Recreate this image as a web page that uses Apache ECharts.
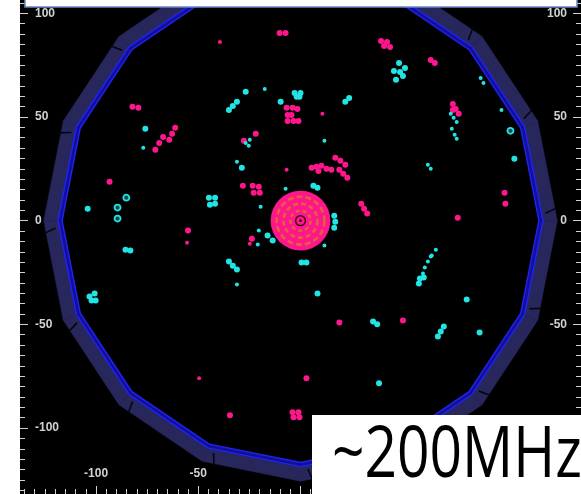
<!DOCTYPE html>
<html><head><meta charset="utf-8">
<script src="https://cdn.jsdelivr.net/npm/echarts@6/dist/echarts.min.js"></script>
<style>html,body{margin:0;padding:0;background:#fff;}#c{width:581px;height:494px;}</style>
</head><body><div id="c"></div>
<script>
// ---- axis ticks / labels ----
const majorTicks = [-100, -50, 0, 50, 100];
const minorTicks = [];
for (let t = -135; t <= 135; t += 5) minorTicks.push(t);
const xRange = [-137.2, 137.2];
const yRange = [-131.8, 106.4];

// ---- detector geometry (data units) ----
const detectorCenter = [[0, 0]];
const ringSides = 16;
const blueLineRadii = [116.6, 118.6];
const slabRadii = [118.6, 125.6];
const diskRadius = 14.6;
const diskDashRadii = [4.9, 8.3, 11.7];
const diskCoreRadius = 2.4;

// ---- hits (data units) ----
const pinkHits = [
  [-10.2,90.5],[-7.3,90.5],
  [-6.8,54.4],[-3.9,54.4],[-1.5,53.9],[-6.3,51.0],[-4.4,51.0],[-6.3,48.1],[-3.4,48.1],[-1.0,48.1],
  [39.4,86.6],[42.3,86.1],[43.8,83.7],[40.9,84.2],
  [63.7,77.5],[65.7,76.0],
  [74.5,56.3],[75.9,53.9],[77.4,51.5],[74.5,53.4],
  [-82.2,54.9],[-79.3,54.4],
  [-71.0,34.2],[-69.1,37.5],[-67.2,40.4],
  [-64.2,39.0],[-62.8,41.9],[-61.3,44.8],
  [-93.4,18.8],
  [-27.7,38.5],[-21.9,41.9],
  [-28.2,16.8],
  [-23.4,16.8],[-20.4,16.4],[-22.9,13.5],[-19.9,13.5],
  [5.4,25.5],[7.8,26.0],[10.2,26.5],[12.7,25.0],[15.1,24.5],[8.8,24.0],
  [17.0,30.3],[19.5,28.9],[21.9,26.9],
  [19.0,24.5],[20.9,22.6],[22.9,20.7],
  [29.7,8.2],[31.1,5.8],[32.6,3.4],
  [99.8,13.5],[100.2,8.2],
  [76.9,1.4],
  [-55.0,-4.8],
  [-23.8,-8.7],
  [19.0,-49.1],[50.1,-48.1],
  [2.9,-76.0],[-34.5,-93.8],
  [-3.9,-92.4],[-1.0,-92.4],[-3.4,-94.8],[-0.5,-94.8]
];
const pinkSmallHits = [
  [-39.4,86.1],[10.7,51.5],[-6.8,24.5],[-55.5,-10.6],[-24.8,-11.1],[-49.6,-76.0]
];
const cyanHits = [
  [-75.9,44.3],
  [48.2,76.0],[51.1,73.6],[45.7,72.2],[50.1,69.8],[46.7,67.9],[48.7,71.7],
  [104.6,29.8],
  [-35.0,53.4],[-33.1,55.3],[-31.1,57.3],
  [-26.8,62.1],[-9.7,57.3],
  [-2.9,61.6],[0,61.6],[-1.9,59.7],[-0.5,59.7],
  [21.9,57.3],[23.8,59.2],
  [-44.8,11.1],[-41.8,11.1],[-44.3,7.7],[-41.8,8.2],
  [-104.1,5.8],
  [-85.6,-14.0],[-83.2,-14.4],
  [-100.7,-35.1],[-103.2,-36.6],[-102.2,-38.5],[-100.2,-38.5],
  [6.3,16.8],[8.3,15.9],
  [16.5,2.4],[17.0,-0.5],[16.5,-3.4],
  [-16.1,-7.2],[-13.6,-9.6],
  [0.5,-20.2],[2.9,-20.2],
  [-35.0,-19.7],[-33.1,-21.7],[-31.1,-23.6],
  [8.3,-35.1],
  [35.5,-48.6],[37.5,-50.0],
  [60.3,-27.4],[57.9,-30.3],[58.4,-27.9],
  [81.3,-38.0],
  [70.1,-51.0],[68.6,-53.4],[67.2,-55.8],
  [87.6,-53.9],[38.4,-78.4],
  [-28.7,25.5]
];
const cyanSmallHits = [
  [-76.9,35.1],[88.1,68.8],[89.5,66.4],[98.3,53.4],[73.5,51.5],[74.9,49.6],[76.4,47.6],
  [74.0,44.3],[75.4,41.4],[76.4,39.5],[-17.5,63.5],[11.7,38.5],[-26.8,37.5],[-24.8,39.0],
  [-25.3,36.1],[-31.1,28.4],[-7.3,15.4],[-19.5,6.7],[-20.4,-4.8],[-20.9,-11.5],[11.7,-12.0],
  [-31.1,-30.8],[62.3,26.9],[63.7,25.0],
  [66.2,-14.0],[64.2,-16.8],[62.3,-19.7],[60.8,-22.6],[59.9,-25.5],[63.7,-17.3]
];
const cyanRingHits = [[102.7,43.3],[-85.2,11.1],[-89.5,6.3],[-89.5,1.0]];

const caption = '~200MHz';

const PINK = '#ff168c', CYAN = '#22e4e4';
const labelStyle = {color:'#d2d2d2', fontSize:12, fontWeight:'bold', fontFamily:'Liberation Sans, Arial, sans-serif'};
const tickStyle = {color:'#d2d2d2', width:1};

function renderDetector(params, api) {
  const cx = api.value(0), cy = api.value(1);
  const step = 2 * Math.PI / ringSides;
  const pt = (r, a) => api.coord([cx + r * Math.cos(a), cy + r * Math.sin(a)]);
  const ch = [];
  for (let k = 0; k < ringSides; k++) {
    const a0 = k * step, a1 = (k + 1) * step;
    ch.push({type:'polygon', shape:{points:[pt(slabRadii[0],a0),pt(slabRadii[0],a1),pt(slabRadii[1],a1),pt(slabRadii[1],a0)]},
      style:{fill:'#27275c', stroke:'#27275c', lineWidth:0.5}});
    ch.push({type:'polygon', shape:{points:[pt(blueLineRadii[0],a0),pt(blueLineRadii[0],a1),pt(blueLineRadii[1],a1),pt(blueLineRadii[1],a0)]},
      style:{fill:'#10109a'}});
  }
  for (let k = 0; k < ringSides; k++) {
    const a = k * step + 0.03;
    const p0 = pt(slabRadii[0] + 1.2, a), p1 = pt(slabRadii[1] + 0.3, a + 0.02);
    ch.push({type:'line', shape:{x1:p0[0], y1:p0[1], x2:p1[0], y2:p1[1]}, style:{stroke:'#050510', lineWidth:1.6}});
  }
  blueLineRadii.forEach(r => {
    const pts = [];
    for (let k = 0; k < ringSides; k++) pts.push(pt(r, k * step));
    ch.push({type:'polygon', shape:{points:pts}, style:{fill:null, stroke:'#2222f4', lineWidth:1.4}});
  });
  // central disk
  const c = api.coord([cx, cy]);
  const px = api.size([1, 0])[0];
  ch.push({type:'circle', shape:{cx:c[0], cy:c[1], r:diskRadius * px}, style:{fill:PINK}});
  diskDashRadii.forEach((r, i) => {
    ch.push({type:'circle', shape:{cx:c[0], cy:c[1], r:r * px},
      style:{fill:null, stroke:'#e2603a', lineWidth:2.6, lineDash:[4 + i, 3]}});
  });
  ch.push({type:'circle', shape:{cx:c[0], cy:c[1], r:diskCoreRadius * px}, style:{fill:null, stroke:'#3a0418', lineWidth:1.4}});
  ch.push({type:'circle', shape:{cx:c[0], cy:c[1], r:1.3}, style:{fill:'#3a0418'}});
  return {type:'group', children:ch};
}

const chart = echarts.init(document.getElementById('c'));
const xBase = {type:'value', min:xRange[0], max:xRange[1], position:'bottom', gridIndex:0,
  axisLine:{show:false, onZero:false}, splitLine:{show:false}};
const yBase = {type:'value', min:yRange[0], max:yRange[1], gridIndex:0,
  axisLine:{show:false, onZero:false}, splitLine:{show:false}};
chart.setOption({
  animation:false,
  backgroundColor:'#ffffff',
  grid:{left:20, right:-3, top:0, bottom:-1, show:true, backgroundColor:'#000', borderWidth:0},
  xAxis:[
    Object.assign({}, xBase, {axisTick:{inside:true, length:5, lineStyle:tickStyle, customValues:minorTicks}, axisLabel:{show:false}}),
    Object.assign({}, xBase, {axisTick:{inside:true, length:8, lineStyle:tickStyle, customValues:majorTicks},
      axisLabel:Object.assign({inside:true, margin:14, customValues:majorTicks}, labelStyle)})
  ],
  yAxis:[
    Object.assign({}, yBase, {position:'left', axisTick:{inside:true, length:5, lineStyle:tickStyle, customValues:minorTicks}, axisLabel:{show:false}}),
    Object.assign({}, yBase, {position:'left', axisTick:{inside:true, length:8, lineStyle:tickStyle, customValues:majorTicks},
      axisLabel:Object.assign({inside:true, margin:15, customValues:majorTicks}, labelStyle)}),
    Object.assign({}, yBase, {position:'right', axisTick:{inside:true, length:5, lineStyle:tickStyle, customValues:minorTicks}, axisLabel:{show:false}}),
    Object.assign({}, yBase, {position:'right', axisTick:{inside:true, length:8, lineStyle:tickStyle, customValues:majorTicks},
      axisLabel:Object.assign({inside:true, margin:14, customValues:majorTicks}, labelStyle)})
  ],
  series:[
    {type:'custom', xAxisIndex:0, yAxisIndex:0, data:detectorCenter, renderItem:renderDetector, clip:false, z:1, silent:true},
    {type:'scatter', xAxisIndex:0, yAxisIndex:0, data:pinkHits, symbolSize:6, itemStyle:{color:PINK, opacity:1}, z:3},
    {type:'scatter', xAxisIndex:0, yAxisIndex:0, data:pinkSmallHits, symbolSize:4, itemStyle:{color:PINK, opacity:1}, z:3},
    {type:'scatter', xAxisIndex:0, yAxisIndex:0, data:cyanHits, symbolSize:6, itemStyle:{color:CYAN, opacity:1}, z:3},
    {type:'scatter', xAxisIndex:0, yAxisIndex:0, data:cyanSmallHits, symbolSize:4, itemStyle:{color:CYAN, opacity:1}, z:3},
    {type:'scatter', xAxisIndex:0, yAxisIndex:0, data:cyanRingHits, symbol:'circle', symbolSize:6,
      itemStyle:{color:'#0d4a50', borderColor:CYAN, borderWidth:1.8, opacity:1}, z:3}
  ],
  graphic:[
    {type:'rect', z:100, shape:{x:25, y:-10, width:552, height:17}, style:{fill:'#ffffff', stroke:'#6a86c6', lineWidth:1.5}},
    {type:'rect', z:100, shape:{x:312, y:415, width:280, height:90}, style:{fill:'#ffffff'}},
    {type:'text', z:101, x:332, y:456, scaleX:0.79,
      style:{text:caption, font:'72px "Open Sans", "Noto Sans", sans-serif', fill:'#000', verticalAlign:'middle', align:'left'}}
  ]
});
</script></body></html>
